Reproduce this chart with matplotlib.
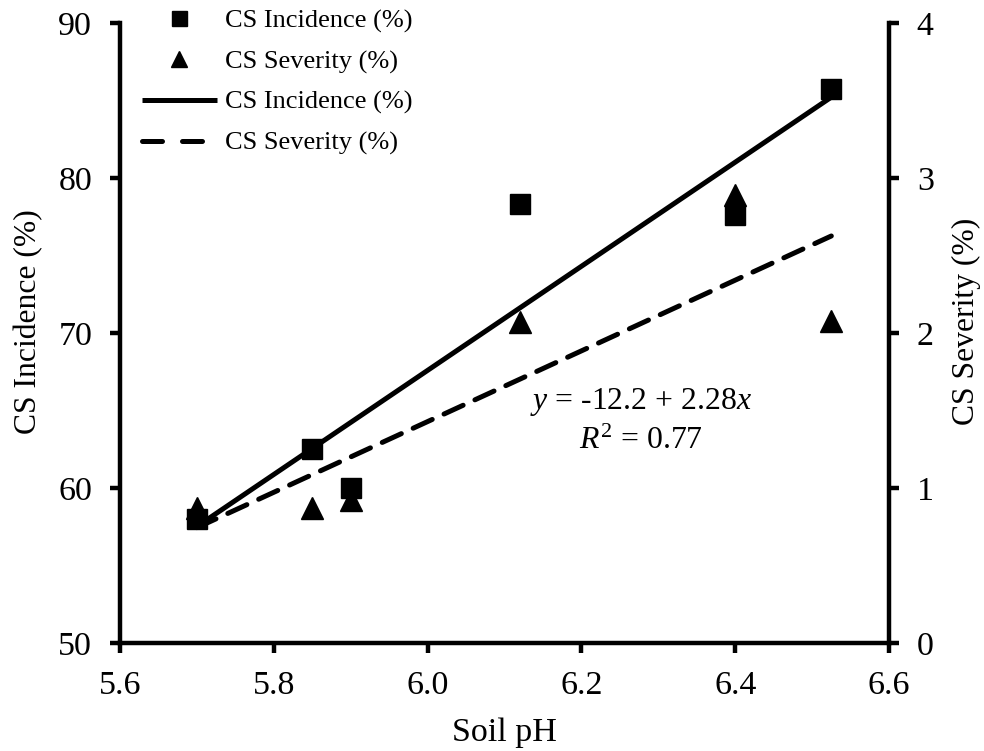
import matplotlib
matplotlib.use("Agg")
import matplotlib.pyplot as plt
from matplotlib.lines import Line2D
import numpy as np

plt.rcParams['font.family'] = ['Liberation Serif', 'DejaVu Serif']
plt.rcParams['mathtext.fontset'] = 'custom'
plt.rcParams['mathtext.rm'] = 'Liberation Serif'
plt.rcParams['mathtext.it'] = 'Liberation Serif:italic'

# Data
soil_ph = [5.70, 5.85, 5.90, 6.12, 6.40, 6.525]
incidence = [58.0, 62.5, 60.0, 78.3, 77.6, 85.75]
severity = [0.87, 0.87, 0.92, 2.07, 2.89, 2.08]
eq_text = "$\\mathit{y}$ = -12.2 + 2.28$\\mathit{x}$"
r2_text = "$\\mathit{R}^{\\mathrm{2}}$ = 0.77"

xticks = [5.6, 5.8, 6.0, 6.2, 6.4, 6.6]
yticks_left = [50, 60, 70, 80, 90]
yticks_right = [0, 1, 2, 3, 4]

fig = plt.figure(figsize=(9.84, 7.51), dpi=100)
L, R, B, T = 120/984, 889/984, 1-643/751, 1-23/751
ax = fig.add_axes([L, B, R-L, T-B])
ax2 = ax.twinx()

x = np.array(soil_ph)
inc_fit = np.polyfit(x, np.array(incidence), 1)
sev_fit = np.polyfit(x, np.array(severity), 1)
xl = np.array([min(soil_ph), max(soil_ph)])

lw = 3.6
h_inc_line, = ax.plot(xl, np.polyval(inc_fit, xl), color='black', lw=lw,
                      solid_capstyle='butt', zorder=2)
h_inc_pts, = ax.plot(soil_ph, incidence, ls='none', marker='s', ms=15,
                     color='black', zorder=3)
h_sev_line, = ax2.plot(xl, np.polyval(sev_fit, xl), color='black', lw=lw,
                       dashes=(4.2, 2.6), dash_capstyle='round', zorder=2)
h_sev_pts, = ax2.plot(soil_ph, severity, ls='none', marker='^', ms=16,
                      color='black', zorder=3)

ax.set_xlim(5.6, 6.6)
ax.set_ylim(50, 90)
ax2.set_ylim(0, 4)
ax.set_xticks(xticks)
ax.set_xticklabels([f"{v:.1f}" for v in xticks])
ax.set_yticks(yticks_left)
ax2.set_yticks(yticks_right)

fs = 24.5
lfs = 22.8
for a in (ax, ax2):
    for s in a.spines.values():
        s.set_linewidth(3.2)
    a.spines['top'].set_visible(False)
ax.spines['right'].set_visible(False)
ax2.spines['left'].set_visible(False)
ax2.spines['bottom'].set_visible(False)
ax.tick_params(axis='both', direction='out', length=7, width=3.2,
               labelsize=fs, pad=13)
ax2.tick_params(axis='y', direction='out', length=7, width=3.2,
                labelsize=fs, pad=13)

ax.set_xlabel('Soil pH', fontsize=fs, labelpad=12)
ax.set_ylabel('CS Incidence (%)', fontsize=lfs, labelpad=11)
ax2.set_ylabel('CS Severity (%)', fontsize=lfs, labelpad=13)
ax.yaxis.label.set_y(0.518)
ax2.yaxis.label.set_y(0.518)

ax2.text(0.6775, 0.358, eq_text + "\n" + r2_text,
         transform=ax.transAxes, ha='center', va='center', fontsize=22.9,
         multialignment='center', linespacing=1.36)

leg_sev_line = Line2D([], [], color='black', lw=lw, dashes=(4, 4),
                      dash_capstyle='round')
leg = fig.legend([h_inc_pts, h_sev_pts, h_inc_line, leg_sev_line],
                 ['CS Incidence (%)', 'CS Severity (%)', 'CS Incidence (%)', 'CS Severity (%)'],
                 loc='upper left', bbox_to_anchor=(142/984, 1-9/751),
                 frameon=False, fontsize=19, borderpad=0, borderaxespad=0,
                 handlelength=2.84, handletextpad=0.3, labelspacing=0.64,
                 markerscale=0.72)

fig.savefig('out.png', dpi=100)
